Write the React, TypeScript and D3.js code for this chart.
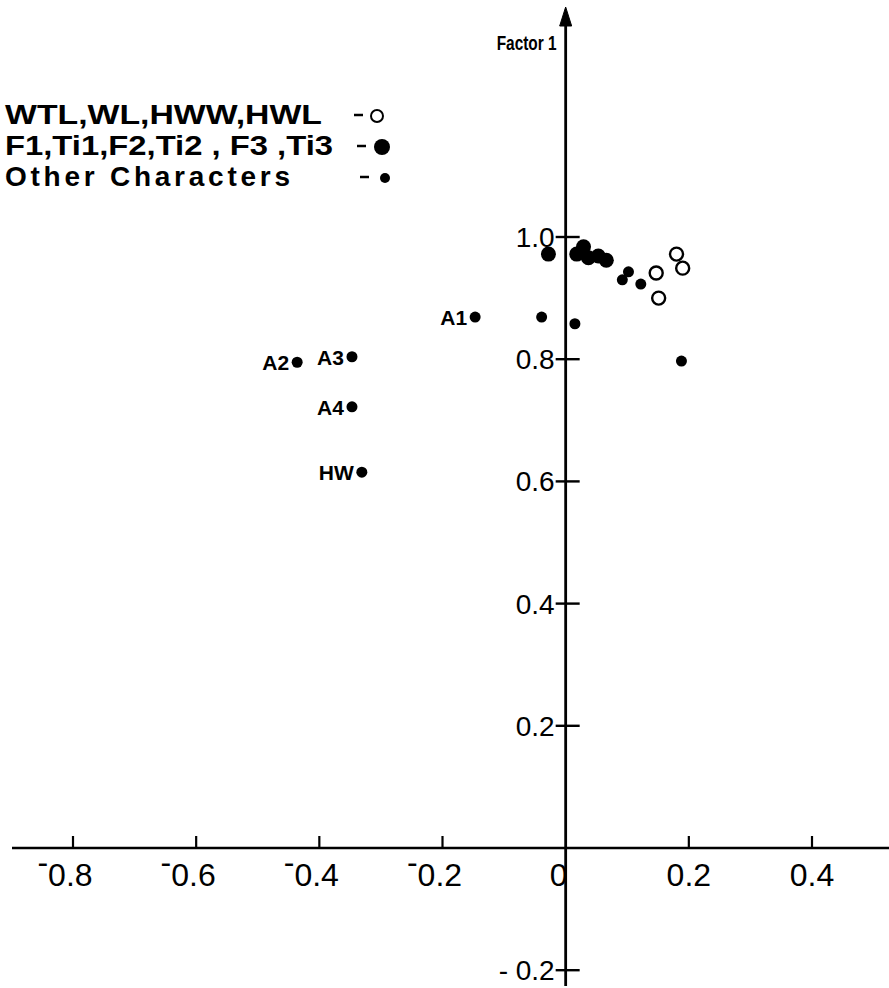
import React, { useEffect, useRef } from "react";
import * as d3 from "d3";

// loadings: x = factor 2, y = factor 1
const wingPts = [
  // WTL, WL, HWW, HWL (open circles)
  { x: 0.147, y: 0.941 },
  { x: 0.151, y: 0.9 },
  { x: 0.18, y: 0.972 },
  { x: 0.19, y: 0.949 }
];

const legPts = [
  // F1, Ti1, F2, Ti2, F3, Ti3 (big dots)
  { x: -0.028, y: 0.972 },
  { x: 0.018, y: 0.972 },
  { x: 0.029, y: 0.984 },
  { x: 0.037, y: 0.966 },
  { x: 0.053, y: 0.969 },
  { x: 0.066, y: 0.962 }
];

const otherPts = [
  { x: -0.147, y: 0.869, label: "A1" },
  { x: -0.436, y: 0.795, label: "A2" },
  { x: -0.347, y: 0.804, label: "A3" },
  { x: -0.347, y: 0.722, label: "A4" },
  { x: -0.331, y: 0.615, label: "HW" },
  { x: -0.039, y: 0.869, label: "" },
  { x: 0.015, y: 0.858, label: "" },
  { x: 0.092, y: 0.93, label: "" },
  { x: 0.102, y: 0.943, label: "" },
  { x: 0.122, y: 0.923, label: "" },
  { x: 0.188, y: 0.797, label: "" }
];

const xTicks = [-0.8, -0.6, -0.4, -0.2, 0.2, 0.4];
const yTicks = [1.0, 0.8, 0.6, 0.4, 0.2, -0.2];
const legendLabels = ["WTL,WL,HWW,HWL", "F1,Ti1,F2,Ti2 , F3 ,Ti3", "Other Characters"];
const legendLen = [317, 328, 285];

const W = 889;
const H = 988;
const font = "'Liberation Sans', Arial, Helvetica, sans-serif";

const App = () => {
  const svgRef = useRef<SVGSVGElement>(null);

  useEffect(() => {
    const svg = d3.select(svgRef.current);
    svg.selectAll("*").remove();

    // ----- scales
    const x = d3.scaleLinear().domain([-0.8, 0.4]).range([73, 812]);
    const y = d3.scaleLinear().domain([0, 1]).range([848, 237]);
    const x0 = x(0);
    const y0 = y(0);

    svg.append("rect").attr("width", W).attr("height", H).attr("fill", "#fff");

    // ----- x axis (horizontal line, ticks up)
    const gx = svg.append("g").attr("stroke", "#000");
    gx.append("line")
      .attr("x1", 12)
      .attr("x2", W)
      .attr("y1", y0)
      .attr("y2", y0)
      .attr("stroke-width", 2.6);
    gx.selectAll("line.tick")
      .data(xTicks)
      .join("line")
      .attr("class", "tick")
      .attr("x1", d => x(d))
      .attr("x2", d => x(d))
      .attr("y1", y0)
      .attr("y2", y0 - 12)
      .attr("stroke-width", 2.2);

    // negative labels get a raised minus, like the original typesetting
    const xl = svg.append("g")
      .selectAll("text")
      .data(xTicks)
      .join("text")
      .attr("x", d => x(d) - (d < 0 ? 8 : 0))
      .attr("y", y0 + 38)
      .attr("text-anchor", "middle")
      .attr("font-family", font)
      .attr("font-size", 32);
    xl.filter(d => d < 0)
      .append("tspan")
      .attr("dy", -13)
      .text("-");
    xl.append("tspan")
      .attr("dy", d => (d < 0 ? 13 : 0))
      .text(d => Math.abs(d).toFixed(1));

    svg.append("text")
      .attr("x", x0 + 2)
      .attr("y", y0 + 38)
      .attr("text-anchor", "end")
      .attr("font-family", font)
      .attr("font-size", 32)
      .text("0");

    // ----- y axis (vertical line with arrow, crossing ticks)
    const gy = svg.append("g").attr("stroke", "#000");
    gy.append("line")
      .attr("x1", x0)
      .attr("x2", x0)
      .attr("y1", 22)
      .attr("y2", 986)
      .attr("stroke-width", 2.8);
    gy.append("path")
      .attr("d", `M${x0},7 L${x0 - 6},26 L${x0 + 6},26 Z`)
      .attr("fill", "#000");
    gy.selectAll("line.tick")
      .data(yTicks)
      .join("line")
      .attr("class", "tick")
      .attr("x1", x0 - 10)
      .attr("x2", x0 + 14)
      .attr("y1", d => y(d))
      .attr("y2", d => y(d))
      .attr("stroke-width", 2.4);

    svg.append("g")
      .selectAll("text")
      .data(yTicks)
      .join("text")
      .attr("x", x0 - 11)
      .attr("y", d => y(d) + 10)
      .attr("text-anchor", "end")
      .attr("font-family", font)
      .attr("font-size", 28)
      .text(d => (d < 0 ? "- " : "") + Math.abs(d).toFixed(1));

    svg.append("text")
      .attr("x", x0 - 9)
      .attr("y", 50)
      .attr("text-anchor", "end")
      .attr("font-family", font)
      .attr("font-weight", "bold")
      .attr("font-size", 21)
      .attr("textLength", 60)
      .attr("lengthAdjust", "spacingAndGlyphs")
      .text("Factor 1");

    // ----- points
    svg.append("g")
      .selectAll("circle")
      .data(otherPts)
      .join("circle")
      .attr("cx", d => x(d.x))
      .attr("cy", d => y(d.y))
      .attr("r", 5.5)
      .attr("fill", "#000");

    svg.append("g")
      .selectAll("text")
      .data(otherPts.filter(d => d.label))
      .join("text")
      .attr("x", d => x(d.x) - 8)
      .attr("y", d => y(d.y) + 8)
      .attr("text-anchor", "end")
      .attr("font-family", font)
      .attr("font-weight", "bold")
      .attr("font-size", 21)
      .text(d => d.label);

    svg.append("g")
      .selectAll("circle")
      .data(legPts)
      .join("circle")
      .attr("cx", d => x(d.x))
      .attr("cy", d => y(d.y))
      .attr("r", 7.5)
      .attr("fill", "#000");

    svg.append("g")
      .selectAll("circle")
      .data(wingPts)
      .join("circle")
      .attr("cx", d => x(d.x))
      .attr("cy", d => y(d.y))
      .attr("r", 6.5)
      .attr("fill", "#fff")
      .attr("stroke", "#000")
      .attr("stroke-width", 2.4);

    // ----- legend
    const lg = svg.append("g");
    const rows = lg
      .selectAll("g")
      .data(legendLabels)
      .join("g")
      .attr("transform", (d, i) => `translate(0,${124 + i * 31})`);
    rows.append("text")
      .attr("x", 5)
      .attr("y", 0)
      .attr("font-family", font)
      .attr("font-weight", "bold")
      .attr("font-size", 28)
      .attr("textLength", (d, i) => legendLen[i])
      .attr("lengthAdjust", (d, i) => (i === 2 ? "spacing" : "spacingAndGlyphs"))
      .text(d => d);
    rows.append("line")
      .attr("x1", (d, i) => 354 + i * 3)
      .attr("x2", (d, i) => 363 + i * 3)
      .attr("y1", -9)
      .attr("y2", -9)
      .attr("stroke", "#000")
      .attr("stroke-width", 2.5);
    rows.append("circle")
      .attr("cx", (d, i) => [377, 382, 385][i])
      .attr("cy", -8)
      .attr("r", (d, i) => [6, 8, 5][i])
      .attr("fill", (d, i) => (i === 0 ? "#fff" : "#000"))
      .attr("stroke", "#000")
      .attr("stroke-width", (d, i) => (i === 0 ? 2 : 0));
  }, []);

  return (
    <svg
      ref={svgRef}
      width={W}
      height={H}
      style={{ position: "absolute", left: 0, top: 0 }}
    />
  );
};

export default App;
